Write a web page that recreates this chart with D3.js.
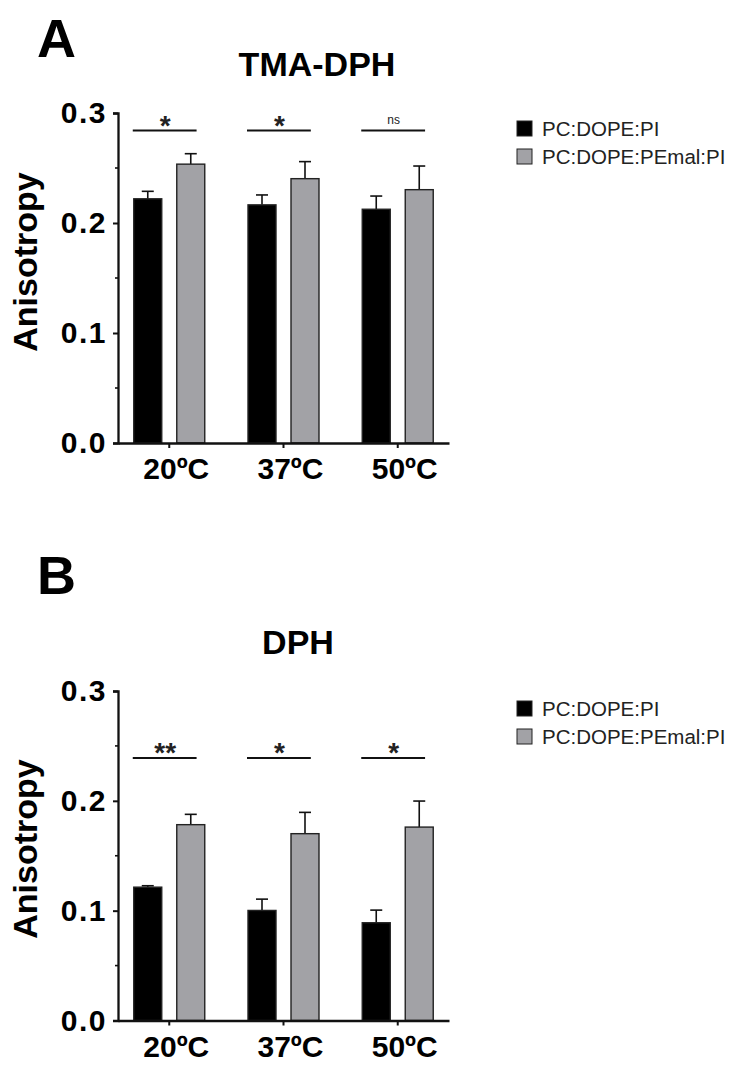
<!DOCTYPE html>
<html>
<head>
<meta charset="utf-8">
<script src="https://cdn.jsdelivr.net/npm/d3@7"></script>
<style>
  body { margin: 0; background: #fff; }
  svg { display: block; font-family: "Liberation Sans", Arial, sans-serif; }
</style>
</head>
<body>
<div class="figure"></div>
<script>
// values (anisotropy, mean + upper SD)
const categories = ["20ºC", "37ºC", "50ºC"];
const seriesNames = ["PC:DOPE:PI", "PC:DOPE:PEmal:PI"];
const yTicks = [0, 0.1, 0.2, 0.3];
const yMinorTicks = [0.05, 0.15, 0.25];

const tmaPI = [0.222, 0.2165, 0.2125];
const tmaPIerr = [0.0068, 0.009, 0.012];
const tmaPEmal = [0.2535, 0.2403, 0.2303];
const tmaPEmalErr = [0.0095, 0.0155, 0.0215];
const tmaSig = ["*", "*", "ns"];

const dphPI = [0.1214, 0.1002, 0.089];
const dphPIerr = [0.0013, 0.0103, 0.0115];
const dphPEmal = [0.1783, 0.1701, 0.1761];
const dphPEmalErr = [0.0094, 0.0194, 0.0237];
const dphSig = ["**", "*", "*"];

const colors = ["#000000", "#a2a2a6"];

const width = 740, height = 1072;
const svg = d3.select(".figure").append("svg")
  .attr("width", width)
  .attr("height", height);

function drawPanel(cfg) {
  const g = svg.append("g");
  const left = 118, right = 449;

  const y = d3.scaleLinear().domain([0, 0.3]).range([cfg.bottom, cfg.top]);
  const x0 = d3.scaleBand().domain(categories).range([left, right])
    .paddingInner(0.3786).paddingOuter(0.138);
  const x1 = d3.scaleBand().domain(seriesNames).range([0, x0.bandwidth()])
    .paddingInner(0.349);

  const rows = categories.map((c, i) => ({
    cat: c,
    sig: cfg.sig[i],
    bars: [
      { s: seriesNames[0], v: cfg.a[i], e: cfg.aErr[i], c: colors[0] },
      { s: seriesNames[1], v: cfg.b[i], e: cfg.bErr[i], c: colors[1] }
    ]
  }));

  // panel letter and title
  g.append("text").attr("x", 37).attr("y", cfg.letterY)
    .attr("font-size", 54).attr("font-weight", "bold").text(cfg.letter);
  g.append("text").attr("x", cfg.titleX).attr("y", cfg.titleY)
    .attr("text-anchor", "middle")
    .attr("font-size", 34).attr("font-weight", "bold").text(cfg.title);

  // bars
  const grp = g.selectAll("g.grp").data(rows).enter().append("g")
    .attr("transform", d => `translate(${x0(d.cat)},0)`);

  grp.selectAll("line.err").data(d => d.bars).enter().append("line")
    .attr("x1", d => x1(d.s) + x1.bandwidth() / 2)
    .attr("x2", d => x1(d.s) + x1.bandwidth() / 2)
    .attr("y1", d => y(d.v)).attr("y2", d => y(d.v + d.e))
    .attr("stroke", "#111").attr("stroke-width", 1.6);
  grp.selectAll("line.cap").data(d => d.bars).enter().append("line")
    .attr("x1", d => x1(d.s) + x1.bandwidth() / 2 - 6)
    .attr("x2", d => x1(d.s) + x1.bandwidth() / 2 + 6)
    .attr("y1", d => y(d.v + d.e)).attr("y2", d => y(d.v + d.e))
    .attr("stroke", "#111").attr("stroke-width", 1.6);

  grp.selectAll("rect").data(d => d.bars).enter().append("rect")
    .attr("x", d => x1(d.s))
    .attr("y", d => y(d.v))
    .attr("width", x1.bandwidth())
    .attr("height", d => y(0) - y(d.v))
    .attr("fill", d => d.c)
    .attr("stroke", "#222").attr("stroke-width", 1.4);

  // significance
  grp.append("line")
    .attr("x1", -1).attr("x2", x0.bandwidth() * 0.885)
    .attr("y1", y(cfg.sigLevel)).attr("y2", y(cfg.sigLevel))
    .attr("stroke", "#111").attr("stroke-width", 2);
  grp.append("text")
    .attr("x", x0.bandwidth() * 0.885 / 2)
    .attr("y", d => d.sig === "ns" ? y(cfg.sigLevel) - 7 : y(cfg.sigLevel) + 4)
    .attr("text-anchor", "middle")
    .attr("font-size", d => d.sig === "ns" ? 12 : 28)
    .attr("font-weight", d => d.sig === "ns" ? "normal" : "bold")
    .attr("fill", "#222")
    .text(d => d.sig);

  // y axis
  const yAxis = g.append("g").attr("transform", `translate(${left},0)`)
    .call(d3.axisLeft(y).tickValues(yTicks).tickFormat(d3.format(".1f"))
      .tickSize(5).tickPadding(6));
  yAxis.select(".domain").attr("stroke-width", 2.3).attr("stroke", "#111");
  yAxis.selectAll(".tick line").attr("stroke-width", 2).attr("stroke", "#111");
  yAxis.selectAll(".tick text").attr("font-size", 30).attr("font-weight", "bold")
    .attr("letter-spacing", 1.5)
    .attr("font-family", "Liberation Sans, Arial, sans-serif").attr("fill", "#000");
  g.append("g").attr("transform", `translate(${left},0)`)
    .selectAll("line").data(yMinorTicks).enter().append("line")
    .attr("x1", -3).attr("x2", 0)
    .attr("y1", d => y(d)).attr("y2", d => y(d))
    .attr("stroke", "#111").attr("stroke-width", 1.6);

  // x axis
  const xAxis = g.append("g").attr("transform", `translate(0,${cfg.bottom})`)
    .call(d3.axisBottom(x0).tickSize(5).tickSizeOuter(0).tickPadding(10));
  xAxis.select(".domain").attr("stroke-width", 2.3).attr("stroke", "#111");
  xAxis.selectAll(".tick line").attr("stroke-width", 2).attr("stroke", "#111");
  xAxis.selectAll(".tick text").attr("font-size", 30).attr("font-weight", "bold")
    .attr("font-family", "Liberation Sans, Arial, sans-serif").attr("fill", "#000")
    .attr("dx", 7);

  g.append("text")
    .attr("transform", `translate(37,${cfg.labelY}) rotate(-90)`)
    .attr("text-anchor", "middle")
    .attr("font-size", 34).attr("font-weight", "bold")
    .text("Anisotropy");

  // legend
  const leg = g.selectAll("g.leg").data(seriesNames).enter().append("g")
    .attr("transform", (d, i) => `translate(517,${cfg.legendY + i * 28})`);
  leg.append("rect").attr("width", 15).attr("height", 15)
    .attr("fill", (d, i) => colors[i]).attr("stroke", "#222").attr("stroke-width", 1);
  leg.append("text").attr("x", 25).attr("y", 15)
    .attr("font-size", 20.5).attr("fill", "#222").text(d => d);
}

drawPanel({
  letter: "A", letterY: 57, title: "TMA-DPH", titleX: 317, titleY: 76,
  top: 113, bottom: 443, labelY: 262, legendY: 121, sigLevel: 0.284,
  a: tmaPI, aErr: tmaPIerr, b: tmaPEmal, bErr: tmaPEmalErr, sig: tmaSig
});
drawPanel({
  letter: "B", letterY: 594, title: "DPH", titleX: 298, titleY: 654,
  top: 691, bottom: 1020.5, labelY: 849, legendY: 701, sigLevel: 0.239,
  a: dphPI, aErr: dphPIerr, b: dphPEmal, bErr: dphPEmalErr, sig: dphSig
});
</script>
</body>
</html>
